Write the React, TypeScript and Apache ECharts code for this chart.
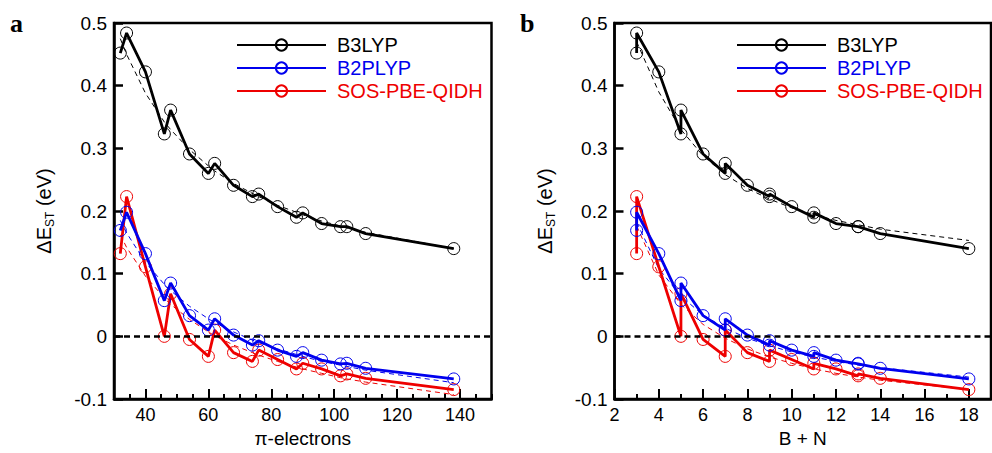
import React, { useEffect, useRef } from "react";
import * as echarts from "echarts";

// ---- data ----
const piElectrons = [32, 34, 40, 46, 48, 54, 60, 62, 68, 74, 76, 82, 88, 90, 96, 102, 104, 110, 138];
const bPlusN = [3, 3, 4, 5, 5, 6, 7, 7, 8, 9, 9, 10, 11, 11, 12, 13, 13, 14, 18];

const b3lyp = [0.452, 0.484, 0.422, 0.323, 0.361, 0.291, 0.26, 0.276, 0.241, 0.223, 0.227, 0.207, 0.19, 0.197, 0.18, 0.175, 0.175, 0.164, 0.14];
const b2plyp = [0.169, 0.198, 0.132, 0.057, 0.085, 0.033, 0.01, 0.028, 0.002, -0.014, -0.007, -0.022, -0.032, -0.026, -0.038, -0.044, -0.043, -0.051, -0.068];
const sosPbeQidh = [0.132, 0.223, 0.111, 0.0, 0.068, -0.005, -0.032, 0.01, -0.026, -0.04, -0.022, -0.037, -0.052, -0.043, -0.052, -0.063, -0.06, -0.067, -0.085];

// dashed fit curves (left panel, vs pi-electrons)
const fitPiB3lyp = [0.475, 0.45, 0.388, 0.342, 0.33, 0.298, 0.272, 0.264, 0.244, 0.228, 0.223, 0.209, 0.198, 0.194, 0.184, 0.176, 0.173, 0.166, 0.14];
const fitPiB2plyp = [0.185, 0.165, 0.118, 0.083, 0.073, 0.048, 0.028, 0.022, 0.007, -0.006, -0.01, -0.02, -0.029, -0.032, -0.04, -0.046, -0.048, -0.054, -0.074];
const fitPiSos = [0.162, 0.142, 0.096, 0.061, 0.051, 0.027, 0.007, 0.001, -0.014, -0.026, -0.03, -0.04, -0.049, -0.052, -0.059, -0.066, -0.068, -0.073, -0.093];

// dashed fit curves (right panel, vs B + N)
const fitBnX = [3, 4, 5, 6, 7, 8, 9, 10, 11, 12, 13, 14, 18];
const fitBnB3lyp = [0.47, 0.39, 0.33, 0.288, 0.258, 0.236, 0.219, 0.205, 0.194, 0.185, 0.178, 0.171, 0.153];
const fitBnB2plyp = [0.182, 0.108, 0.064, 0.034, 0.013, -0.003, -0.015, -0.025, -0.033, -0.04, -0.046, -0.05, -0.065];
const fitBnSos = [0.176, 0.098, 0.051, 0.019, -0.003, -0.02, -0.033, -0.043, -0.052, -0.059, -0.065, -0.07, -0.085];

const seriesNames = ["B3LYP", "B2PLYP", "SOS-PBE-QIDH"];
const piTickLabels = [40, 60, 80, 100, 120, 140];
const bnTickLabels = [2, 4, 6, 8, 10, 12, 14, 16, 18];

const COLORS = ["#000000", "#0000ee", "#ee0000"];
const FONT = "Liberation Sans, Arial, Helvetica, sans-serif";

const pairs = (xs: number[], ys: number[]) => xs.map((x, i) => [x, ys[i]]);

export default function App() {
  const ref = useRef<HTMLDivElement>(null);

  useEffect(() => {
    document.body.style.margin = "0";
    const chart = echarts.init(ref.current!, null, { renderer: "svg" });

    const grids = [
      { left: 114, top: 23, width: 377.5, height: 380 },
      { left: 614.5, top: 23, width: 376.5, height: 380 },
    ].map((g) => ({ ...g, show: true, borderColor: "#000", borderWidth: 2.5, backgroundColor: "transparent", containLabel: false }));

    const axisLine = { show: true, onZero: false, lineStyle: { color: "#000", width: 2.5 } };
    const labelStyle = { color: "#000", fontSize: 18, fontFamily: FONT };

    const xMain = (gi: number, min: number, max: number, interval: number, labels: number[], name: string) => ({
      gridIndex: gi,
      type: "value",
      min,
      max,
      interval,
      position: "bottom",
      axisLine,
      axisTick: { show: true, inside: true, length: 5, lineStyle: { color: "#000", width: 2 } },
      axisLabel: { ...labelStyle, margin: 7, customValues: labels },
      splitLine: { show: false },
      name,
      nameLocation: "middle",
      nameGap: 30,
      nameTextStyle: { color: "#000", fontSize: 19, fontFamily: FONT },
    });
    const xMajor = (gi: number, min: number, max: number, labels: number[]) => ({
      gridIndex: gi,
      type: "value",
      min,
      max,
      position: "bottom",
      axisLine: { show: false, onZero: false },
      axisTick: { show: true, inside: true, length: 10, customValues: labels, lineStyle: { color: "#000", width: 2 } },
      axisLabel: { show: false },
      splitLine: { show: false },
    });

    const yAxis = (gi: number) => ({
      gridIndex: gi,
      type: "value",
      min: -0.1,
      max: 0.5,
      interval: 0.1,
      position: "left",
      axisLine,
      axisTick: { show: true, inside: true, length: 9, lineStyle: { color: "#000", width: 2.5 } },
      axisLabel: {
        ...labelStyle,
        fontSize: 19,
        margin: 7,
        formatter: (v: number) => (Math.abs(v) < 1e-9 ? "0" : v.toFixed(1)),
      },
      splitLine: { show: false },
      name: "{a|ΔE}{b|ST}{a| (eV)}",
      nameLocation: "middle",
      nameGap: 58,
      nameRotate: 90,
      nameTextStyle: {
        color: "#000",
        rich: {
          a: { fontSize: 20, fontFamily: FONT, color: "#000", lineHeight: 24 },
          b: { fontSize: 12, fontFamily: FONT, color: "#000", verticalAlign: "bottom", lineHeight: 24 },
        },
      },
    });

    const solid = (name: string, idx: number, xi: number, yi: number, data: number[][], zero: boolean) => ({
      name,
      type: "line",
      xAxisIndex: xi,
      yAxisIndex: yi,
      data,
      symbol: "circle",
      symbolSize: 12,
      z: 5 - idx,
      lineStyle: { color: COLORS[idx], width: 2.8 },
      itemStyle: { color: "rgba(0,0,0,0)", borderColor: COLORS[idx], borderWidth: 1 },
      emphasis: { disabled: true },
      markLine: zero
        ? {
            silent: true,
            symbol: "none",
            label: { show: false },
            lineStyle: { color: "#000", width: 2.5, type: [6, 4] },
            data: [{ yAxis: 0 }],
          }
        : undefined,
    });
    const dashed = (name: string, idx: number, xi: number, yi: number, data: number[][]) => ({
      name,
      type: "line",
      xAxisIndex: xi,
      yAxisIndex: yi,
      data,
      symbol: "none",
      z: 1,
      lineStyle: { color: COLORS[idx], width: 1, type: [5, 4] },
      emphasis: { disabled: true },
    });

    const leftYs = [b3lyp, b2plyp, sosPbeQidh];
    const leftFits = [fitPiB3lyp, fitPiB2plyp, fitPiSos];
    const rightFits = [fitBnB3lyp, fitBnB2plyp, fitBnSos];

    const series: any[] = [];
    seriesNames.forEach((n, i) => {
      series.push(dashed("fit-pi-" + n, i, 0, 0, pairs(piElectrons, leftFits[i])));
      series.push(dashed("fit-bn-" + n, i, 2, 1, pairs(fitBnX, rightFits[i])));
    });
    seriesNames.forEach((n, i) => {
      series.push(solid(n, i, 0, 0, pairs(piElectrons, leftYs[i]), i === 0));
      series.push(solid(n, i, 2, 1, pairs(bPlusN, leftYs[i]), i === 0));
    });

    const legend = (left: number) => ({
      orient: "vertical",
      left,
      top: 30,
      itemWidth: 89,
      itemHeight: 14,
      itemGap: 3,
      selectedMode: false,
      textStyle: { fontSize: 20, fontFamily: FONT, padding: [0, 0, 0, 6] },
      data: seriesNames.map((n, i) => ({ name: n, textStyle: { color: COLORS[i] } })),
    });

    chart.setOption({
      animation: false,
      grid: grids,
      xAxis: [
        xMain(0, 30, 150, 5, piTickLabels, "π-electrons"),
        xMajor(0, 30, 150, piTickLabels),
        xMain(1, 2, 19, 1, bnTickLabels, "B + N"),
        xMajor(1, 2, 19, bnTickLabels),
      ],
      yAxis: [yAxis(0), yAxis(1)],
      legend: [legend(231), legend(731)],
      series,
      graphic: [
        { type: "text", left: 10, top: 10, style: { text: "a", font: 'bold 26px "Liberation Serif", "Times New Roman", serif', fill: "#000" } },
        { type: "text", left: 520, top: 10, style: { text: "b", font: 'bold 26px "Liberation Serif", "Times New Roman", serif', fill: "#000" } },
      ],
    });

    return () => chart.dispose();
  }, []);

  return <div ref={ref} style={{ width: 992, height: 453 }} />;
}
